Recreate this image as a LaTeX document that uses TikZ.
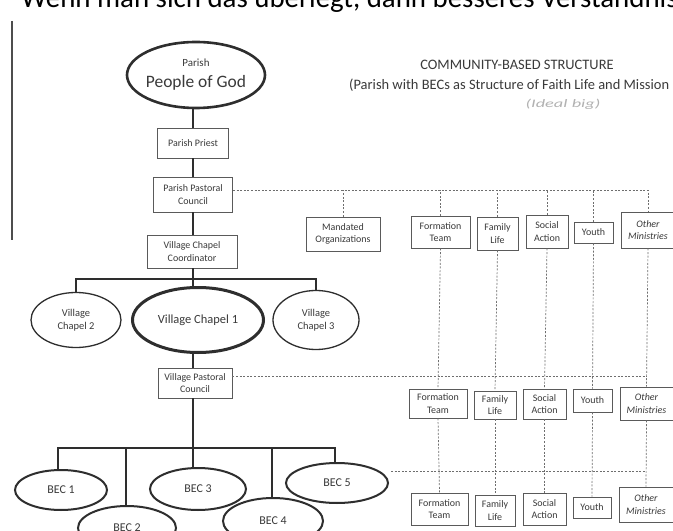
\documentclass[tikz,border=0pt]{standalone}
\usepackage{fontspec}
\setmainfont{Carlito}
\usetikzlibrary{shapes.geometric}
\definecolor{ink}{HTML}{2E2E2E}
\definecolor{boxc}{HTML}{5A5A5A}
\definecolor{dashc}{HTML}{6E6E6E}
\definecolor{txt}{HTML}{3A3A3A}
\tikzset{
  bx/.style={draw=boxc, line width=0.9bp, inner sep=1bp, align=center, text=txt,
    font=\fontsize{10}{12.5}\selectfont},
  itbx/.style={bx, font=\fontsize{10}{12.5}\selectfont\itshape},
  ell/.style={ellipse, draw=ink, inner sep=0pt, align=center, text=txt},
  spine/.style={draw=ink, line width=2.2bp},
  thinl/.style={draw=ink, line width=1.1bp},
  dsh/.style={draw=dashc, line width=0.7bp, dash pattern=on 2bp off 1.6bp},
}
\begin{document}
\begin{tikzpicture}[x=1bp,y=-1bp]
\useasboundingbox (0,0) rectangle (673,531);
\fill[white] (0,0) rectangle (673,531);
\begin{scope}
\clip (0,0) rectangle (673,531);
% cut-off line of text at top
\node[anchor=base west, inner sep=0pt, font=\fontsize{29}{29}\selectfont, text=black] (topline) at (21,8) {Wenn man sich das überlegt, dann besseres Verständnis};
% left border bar
\draw[draw=ink!85, line width=2bp] (12,21) coordinate (barA) -- (12,240) coordinate (barB);

% title
\node[font=\fontsize{14.5}{16}\selectfont, text=txt, inner sep=0pt] (title1) at (517,65) {COMMUNITY-BASED STRUCTURE};
\node[anchor=west, font=\fontsize{14.5}{16}\selectfont, text=txt, inner sep=0pt] (title2) at (349,85) {(Parish with BECs as Structure of Faith Life and Mission};
\node[text=black!30, inner sep=0pt] (hand) at (563,104) {\scalebox{1.6}[1]{\fontsize{11.5}{13}\selectfont\itshape (Ideal big)}};

% main spine
\node[ell, line width=2.6bp, minimum width=138bp, minimum height=66bp] (parish) at (196,75) {};
\node[text=txt, font=\fontsize{11}{12}\selectfont, inner sep=0pt] (parishT) at (196,63) {Parish};
\node[text=txt, font=\fontsize{17.5}{19}\selectfont, inner sep=0pt] (pogT) at (196,83) {People of God};
\node[bx, minimum width=71bp, minimum height=30bp] (pp) at (193,143) {Parish Priest};
\node[bx, minimum width=79bp, minimum height=35bp] (ppc) at (193,194.5) {Parish Pastoral\\Council};
\node[bx, minimum width=90bp, minimum height=33bp] (vcc) at (192,251.5) {Village Chapel\\Coordinator};

\node[ell, line width=1.3bp, minimum width=90bp, minimum height=55bp, font=\fontsize{10.5}{12.5}\selectfont] (vc2) at (76,320) {Village\\Chapel 2};
\node[ell, line width=3bp, minimum width=131bp, minimum height=65bp, font=\fontsize{12.5}{14}\selectfont] (vc1) at (198,320) {Village Chapel 1};
\node[ell, line width=1.3bp, minimum width=86bp, minimum height=59bp, font=\fontsize{10.5}{12.5}\selectfont] (vc3) at (316,320) {Village\\Chapel 3};

\node[bx, minimum width=74bp, minimum height=30bp] (vpc) at (195,383) {Village Pastoral\\Council};

\node[ell, line width=2bp, minimum width=92bp, minimum height=40bp, font=\fontsize{12}{14}\selectfont] (bec1) at (61,490) {BEC 1};
\node[ell, line width=2bp, minimum width=98bp, minimum height=44bp, font=\fontsize{12}{14}\selectfont] (bec2) at (127,528) {BEC 2};
\node[ell, line width=2bp, minimum width=96bp, minimum height=42bp, font=\fontsize{12}{14}\selectfont] (bec3) at (198,489) {BEC 3};
\node[ell, line width=2bp, minimum width=100bp, minimum height=46bp, font=\fontsize{12}{14}\selectfont] (bec4) at (273,521) {BEC 4};
\node[ell, line width=2bp, minimum width=102bp, minimum height=40bp, font=\fontsize{12}{14}\selectfont] (bec5) at (337,483) {BEC 5};

% ministries: top row
\node[bx, minimum width=74bp, minimum height=34bp] (mo) at (343,234) {Mandated\\Organizations};
\node[bx, minimum width=59bp, minimum height=32bp] (ft1) at (440.5,232) {Formation\\Team};
\node[bx, minimum width=41bp, minimum height=33bp] (fl1) at (497.5,233.5) {Family\\Life};
\node[bx, minimum width=42bp, minimum height=33bp] (sa1) at (547,231.5) {Social\\Action};
\node[bx, minimum width=39bp, minimum height=21bp] (y1) at (593.5,232.5) {Youth};
\node[itbx, minimum width=54bp, minimum height=36bp] (om1) at (648,230) {Other\\Ministries};
% middle row
\node[bx, minimum width=58bp, minimum height=29bp] (ft2) at (438,403.5) {Formation\\Team};
\node[bx, minimum width=42bp, minimum height=28bp] (fl2) at (495,405) {Family\\Life};
\node[bx, minimum width=43bp, minimum height=30bp] (sa2) at (544.5,404) {Social\\Action};
\node[bx, minimum width=39bp, minimum height=23bp] (y2) at (592.5,400.5) {Youth};
\node[itbx, minimum width=53bp, minimum height=33bp] (om2) at (646.5,403.5) {Other\\Ministries};
% bottom row
\node[bx, minimum width=57bp, minimum height=32bp] (ft3) at (439.5,509) {Formation\\Team};
\node[bx, minimum width=40bp, minimum height=31bp] (fl3) at (495,510.5) {Family\\Life};
\node[bx, minimum width=43bp, minimum height=32bp] (sa3) at (544.5,509) {Social\\Action};
\node[bx, minimum width=38bp, minimum height=21bp] (y3) at (592,507.5) {Youth};
\node[itbx, minimum width=54bp, minimum height=35bp] (om3) at (646,504.5) {Other\\Ministries};

% solid connectors
\draw[spine] (pp.north |- parish.south) -- (pp.north);
\draw[spine] (pp.south) -- (pp.south |- ppc.north);
\draw[spine] (ppc.south) -- (ppc.south |- vcc.north);
\coordinate (cbar) at (193,279);
\draw[spine] (vcc.south -| cbar) -- (cbar);
\draw[spine] (vc2.north) |- (cbar) -| (vc3.north);
\draw[spine] (cbar) -- (cbar |- vc1.north);
\draw[spine] (vpc.north -| cbar) -- (cbar |- vc1.south);
\coordinate (bbar) at (193,448);
\draw[spine] (vpc.south -| bbar) -- (bbar) -- (bbar |- bec3.north);
\draw[thinl] (bec1.north -| 58,0) |- (bbar) -| (bec5.north -| 335,0);
\draw[thinl] (bec2.north -| 126,0) -- (126,448);
\draw[thinl] (bec4.north -| 272,0) -- (272,448);

% dashed connectors
\coordinate (d1) at ([yshift=4.5bp]ppc.east);
\draw[dsh] (d1) -| (om1.north);
\foreach \n in {mo,ft1,fl1,sa1,y1}{\draw[dsh] (\n.north) -- (\n.north |- d1);}
\coordinate (d2) at ([yshift=7bp]vpc.east);
\draw[dsh] (d2) -- (d2 -| om2.north);
\coordinate (d3) at ([yshift=12bp, xshift=2bp]bec5.east);
\draw[dsh] (d3) -- (d3 -| om3.north);
\foreach \a/\b in {ft1/ft2,fl1/fl2,sa1/sa2,y1/y2,om1/om2,ft2/ft3,fl2/fl3,sa2/sa3,y2/y3,om2/om3}{\draw[dsh] (\a.south) -- (\b.north);}
\end{scope}
\end{tikzpicture}
\end{document}
